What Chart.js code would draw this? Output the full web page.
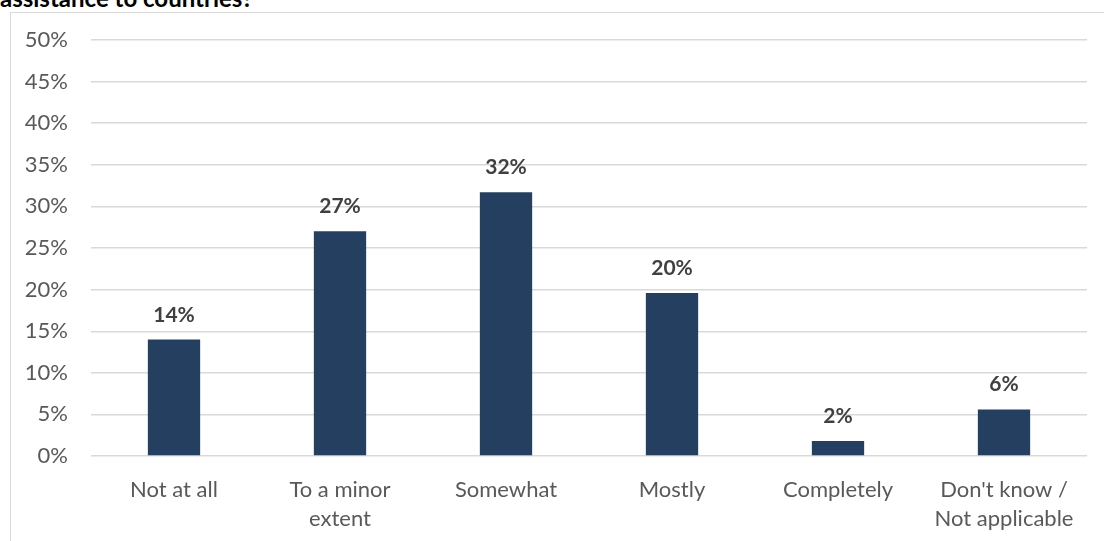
<!DOCTYPE html>
<html>
<head>
<meta charset="utf-8">
<script src="https://cdn.jsdelivr.net/npm/chart.js@4.4.1/dist/chart.umd.min.js"></script>
<style>
  html, body { margin: 0; padding: 0; background: #fff; overflow: hidden; }
  body { width: 1104px; height: 541px; position: relative; }
  #title { position: absolute; left: 0; top: -14px; font: bold 24px Lato, sans-serif; line-height: 24px; color: #000; white-space: nowrap; }
  #frame { position: absolute; left: 10px; top: 12px; width: 1200px; height: 600px; border-left: 1px solid #d9d9d9; border-top: 1px solid #d9d9d9; }
  #chart { position: absolute; left: 0; top: 0; }
</style>
</head>
<body>
<div id="title">assistance to countries?</div>
<div id="frame"></div>
<canvas id="chart" width="1104" height="541"></canvas>
<script>
// Data
const categories = ["Not at all", ["To a minor", "extent"], "Somewhat", "Mostly", "Completely", ["Don't know /", "Not applicable"]];
const shares = [14.0, 27.0, 31.7, 19.6, 1.8, 5.6];
const shareLabels = ["14%", "27%", "32%", "20%", "2%", "6%"];
const yTicks = [0, 5, 10, 15, 20, 25, 30, 35, 40, 45, 50];

const FONT = "Lato, 'Open Sans', sans-serif";

/* ---------- value labels above bars ---------- */
const barLabels = {
    id: "barLabels",
    afterDatasetsDraw(chart) {
        const ctx = chart.ctx;
        const meta = chart.getDatasetMeta(0);
        ctx.save();
        ctx.font = "bold 21px " + FONT;
        ctx.fillStyle = "#404040";
        ctx.textAlign = "center";
        ctx.textBaseline = "alphabetic";
        meta.data.forEach((bar, i) => {
            ctx.fillText(shareLabels[i], bar.x, bar.y - 18);
        });
        ctx.restore();
    }
};

new Chart(document.getElementById("chart"), {
    type: "bar",
    data: {
        labels: categories,
        datasets: [{
            data: shares,
            backgroundColor: "#243f60",
            borderWidth: 0,
            barPercentage: 0.315,
            categoryPercentage: 1
        }]
    },
    options: {
        responsive: false,
        animation: false,
        layout: { padding: { top: 40, right: 17, left: 0, bottom: 0 } },
        plugins: { legend: { display: false }, tooltip: { enabled: false } },
        scales: {
            x: {
                grid: { display: false },
                border: { display: false },
                ticks: { color: "#595959", font: { family: FONT, size: 22, lineHeight: 1.3 }, padding: 12, maxRotation: 0, autoSkip: false },
                afterFit: s => { s.height = 541 - 456; }
            },
            y: {
                min: 0, max: 50,
                afterBuildTicks: s => { s.ticks = yTicks.map(v => ({ value: v })); },
                grid: { color: "#d9d9d9", lineWidth: 1.4, drawTicks: false },
                border: { display: false },
                ticks: { color: "#595959", font: { family: FONT, size: 22 }, padding: 23, callback: v => v + "%" },
                afterFit: s => { s.width = 91; }
            }
        }
    },
    plugins: [barLabels]
});
</script>
</body>
</html>
